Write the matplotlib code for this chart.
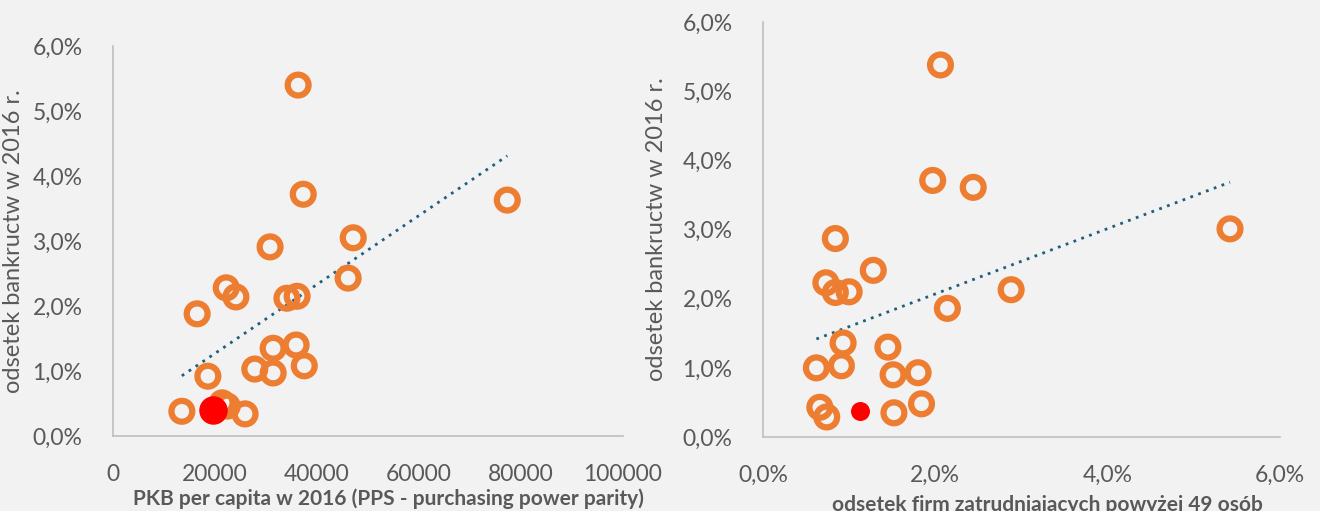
import numpy as np
import matplotlib.pyplot as plt
from matplotlib.ticker import FuncFormatter

# GDP per capita (PPS) vs bankruptcy rate, 2016
pkb = [36300, 37300, 77300, 47100, 30800, 46100, 22200, 24100, 34100, 36100,
       16500, 31400, 35900, 27800, 31400, 37500, 18600, 21400, 22400, 13500, 25900]
bankr_l = [5.40, 3.72, 3.63, 3.05, 2.91, 2.43, 2.28, 2.14, 2.12, 2.15,
           1.88, 1.35, 1.40, 1.03, 0.97, 1.08, 0.92, 0.51, 0.46, 0.38, 0.34]
pl_pkb, pl_bankr_l = 19600, 0.40

# share of firms with more than 49 employees vs bankruptcy rate
firmy = [2.06, 1.97, 2.44, 5.42, 0.84, 1.28, 0.73, 0.84, 1.00, 2.88, 2.14,
         0.93, 1.45, 0.62, 0.91, 1.51, 1.80, 0.66, 1.84, 0.74, 1.52]
bankr_r = [5.38, 3.71, 3.61, 3.01, 2.87, 2.41, 2.23, 2.09, 2.10, 2.13, 1.86,
           1.36, 1.30, 1.00, 1.03, 0.90, 0.93, 0.43, 0.48, 0.29, 0.35]
pl_firmy, pl_bankr_r = 1.13, 0.38

bg = '#F2F2F2'
txt = '#595959'
orange = '#ED7D31'
trend = '#1F5F7E'

plt.rcParams['font.family'] = ['Lato', 'DejaVu Sans']

fig = plt.figure(figsize=(13.2, 5.11), dpi=100, facecolor=bg)
ax1 = fig.add_axes([0.0856, 0.1468, 0.3864, 0.763])
ax2 = fig.add_axes([0.578, 0.1448, 0.3917, 0.812])

pct = FuncFormatter(lambda v, p: ('%.1f%%' % v).replace('.', ','))


def style(ax):
    ax.set_facecolor(bg)
    for s in ['top', 'right']:
        ax.spines[s].set_visible(False)
    for s in ['left', 'bottom']:
        ax.spines[s].set_color('#BFBFBF')
        ax.spines[s].set_linewidth(1.2)
    ax.tick_params(length=0, labelsize=16.5, labelcolor=txt)
    ax.tick_params(axis='x', pad=20)
    ax.tick_params(axis='y', pad=22)
    ax.set_ylim(0, 6)
    ax.set_yticks(np.arange(0, 7, 1))
    ax.yaxis.set_major_formatter(pct)


def draw(ax, x, y, px, py, red_size):
    ax.scatter(x, y, s=225, facecolors='none', edgecolors=orange,
               linewidths=4.5, zorder=3)
    ax.scatter([px], [py], s=red_size, color='#FF0000', zorder=4)
    a, b = np.polyfit(x, y, 1)
    xs = np.array([min(x), max(x)])
    ax.plot(xs, a * xs + b, ls=(0, (1, 2)), lw=2, color=trend, zorder=2)


# left: PKB per capita
style(ax1)
draw(ax1, pkb, bankr_l, pl_pkb, pl_bankr_l, 380)
ax1.set_xlim(0, 100000)
ax1.set_xticks(np.arange(0, 100001, 20000))
ax1.set_xlabel('PKB per capita w 2016 (PPS - purchasing power parity)',
               fontsize=15, fontweight='bold', color=txt)
ax1.xaxis.set_label_coords(0.54, -0.135)
ax1.set_ylabel('odsetek bankructw w 2016 r.', fontsize=17, color=txt)
ax1.yaxis.set_label_coords(-0.175, 0.5)

# right: firms > 49 employees
style(ax2)
draw(ax2, firmy, bankr_r, pl_firmy, pl_bankr_r, 160)
ax2.set_xlim(0, 6)
ax2.set_xticks(np.arange(0, 7, 2))
ax2.xaxis.set_major_formatter(pct)
ax2.set_xlabel('odsetek firm zatrudniajacych powyżej 49 osób',
               fontsize=15, fontweight='bold', color=txt)
ax2.xaxis.set_label_coords(0.55, -0.14)
ax2.set_ylabel('odsetek bankructw w 2016 r.', fontsize=17, color=txt)
ax2.yaxis.set_label_coords(-0.185, 0.5)

fig.savefig('out.png', dpi=100, facecolor=bg)
